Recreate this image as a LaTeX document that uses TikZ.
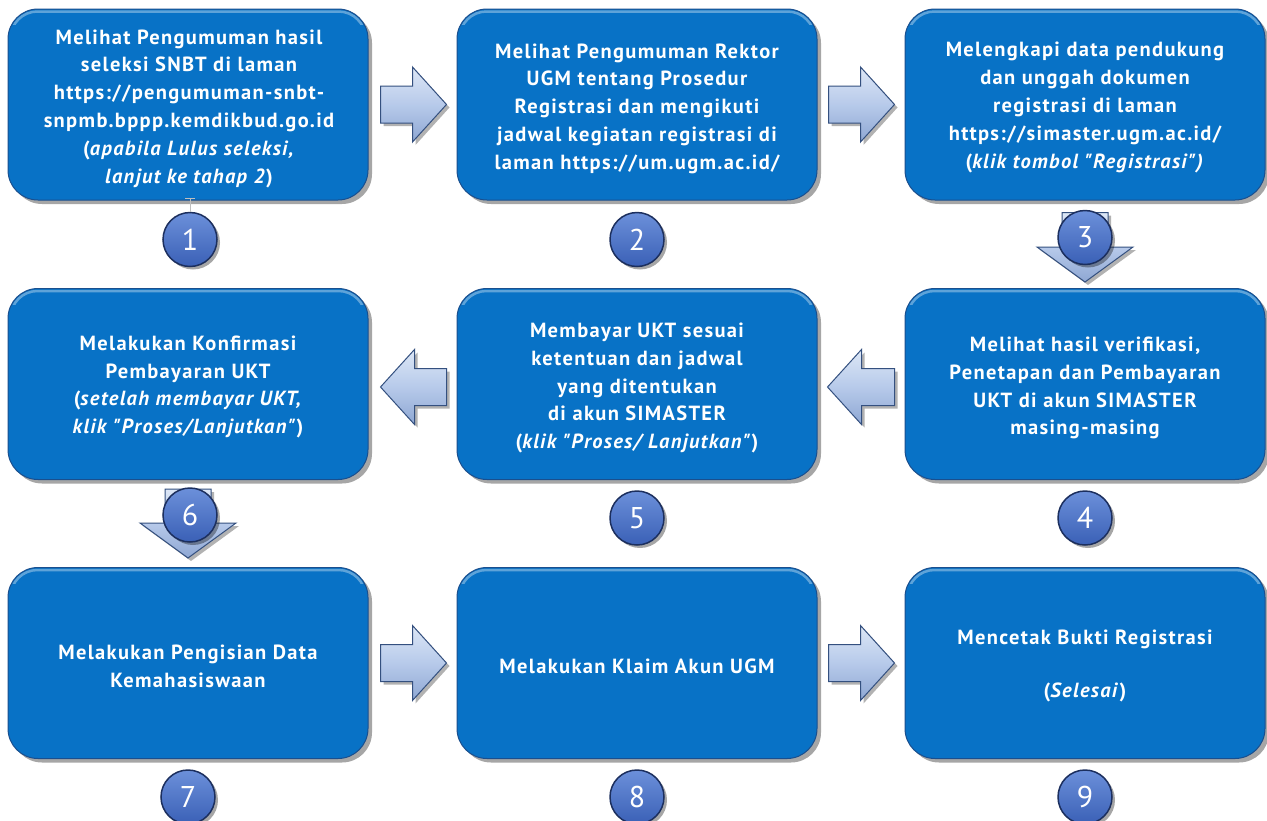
\documentclass[tikz,border=0pt]{standalone}
\usepackage{fontspec}
\setmainfont{PT Sans}[Ligatures=TeXOff]
\newfontfamily\boxfont{PT Sans}[Ligatures=TeXOff, LetterSpace=6.5]
\usetikzlibrary{calc,shadows}
\definecolor{boxfill}{HTML}{0872C6}
\definecolor{boxline}{HTML}{1A4F8E}
\definecolor{circtop}{HTML}{6C90DA}
\definecolor{circbot}{HTML}{3A60B6}
\definecolor{circline}{HTML}{1C2F5E}
\definecolor{arrtop}{HTML}{DDE7F6}
\definecolor{arrmid}{HTML}{B7CAEA}
\definecolor{arrbot}{HTML}{8EA7D3}
\definecolor{arrline}{HTML}{34507F}
\tikzset{
  stepbox/.style={rectangle, rounded corners=30pt, fill=boxfill, draw=boxline, line width=1pt,
    minimum width=360pt, minimum height=191pt, inner sep=0pt,
    drop shadow={shadow xshift=4pt, shadow yshift=-4pt, opacity=0.35, fill=black}},
  boxtext/.style={inner sep=0pt, align=center, text=white,
    font=\boxfont\fontsize{20.5}{27.8}\selectfont\bfseries},
  numcirc/.style={circle, minimum size=54pt, inner sep=0pt, top color=circtop, bottom color=circbot,
    draw=circline, line width=1.5pt, text=white, font=\fontsize{30}{30}\selectfont,
    drop shadow={shadow xshift=3pt, shadow yshift=-3pt, opacity=0.35, fill=black}},
  arrowbox/.style={top color=arrtop, bottom color=arrbot, middle color=arrmid, draw=arrline,
    line width=1pt, line join=miter,
    drop shadow={shadow xshift=3pt, shadow yshift=-3pt, opacity=0.3, fill=black}},
  glossline/.style={white, opacity=0.35, line width=2.5pt, rounded corners=27pt}
}
\newcommand\myHArrow[3]{%
  \path[arrowbox] ($(#1)+(0,-18.5)$) -- ($(#2)+({-(#3)*34},-18.5)$) -- ($(#2)+({-(#3)*34},-37.5)$)
    -- (#2) -- ($(#2)+({-(#3)*34},37.5)$) -- ($(#2)+({-(#3)*34},18.5)$) -- ($(#1)+(0,18.5)$) -- cycle;}
\newcommand\myVArrow[2]{%
  \path[arrowbox] ($(#1)+(-23,0)$) -- ($(#2)+(-23,-35)$) -- ($(#2)+(-48,-35)$)
    -- (#2) -- ($(#2)+(48,-35)$) -- ($(#2)+(23,-35)$) -- ($(#1)+(23,0)$) -- cycle;}
\newcommand\myGloss[1]{%
  \begin{scope}
    \clip ($(#1.north west)+(-2,-2)$) rectangle ($(#1.north east)+(2,16)$);
    \draw[glossline] ($(#1.north west)+(3,3)$) rectangle ($(#1.south east)+(-3,-3)$);
  \end{scope}}
\begin{document}
\begin{tikzpicture}[x=1pt,y=-1pt]
\useasboundingbox (0,0) rectangle (1267,820);
\fill[white] (0,0) rectangle (1267,820);

% boxes
\node[stepbox] (b1) at (188,104.5) {};
\node[stepbox] (b2) at (637,104.5) {};
\node[stepbox] (b3) at (1085,104.5) {};
\node[stepbox] (b4) at (1085,384) {};
\node[stepbox] (b5) at (637,384) {};
\node[stepbox] (b6) at (188,384) {};
\node[stepbox] (b7) at (188,663) {};
\node[stepbox] (b8) at (637,663) {};
\node[stepbox] (b9) at (1085,663) {};

\foreach \b in {b1,b2,b3,b4,b5,b6,b7,b8,b9} {\myGloss{\b}}

% box texts
\node[boxtext] (t1) at ($(b1.center)+(1,4)$) {Melihat Pengumuman hasil\\seleksi SNBT di laman\\https://pengumuman-snbt-\\snpmb.bppp.kemdikbud.go.id\\(\textit{apabila Lulus seleksi,}\\\textit{lanjut ke tahap 2})};
\node[boxtext] (t2) at ($(b2.center)+(0,4)$) {Melihat Pengumuman Rektor\\UGM tentang Prosedur\\Registrasi dan mengikuti\\jadwal kegiatan registrasi di\\laman https://um.ugm.ac.id/};
\node[boxtext] (t3) at ($(b3.center)+(0,3)$) {Melengkapi data pendukung\\dan unggah dokumen\\registrasi di laman\\https://simaster.ugm.ac.id/\\(\textit{klik tombol "Registrasi")}};
\node[boxtext] (t4) at ($(b4.center)+(0,4)$) {Melihat hasil verifikasi,\\Penetapan dan Pembayaran\\UKT di akun SIMASTER\\masing-masing};
\node[boxtext] (t5) at ($(b5.center)+(0,4)$) {Membayar UKT sesuai\\ketentuan dan jadwal\\yang ditentukan\\di akun SIMASTER\\(\textit{klik "Proses/ Lanjutkan"})};
\node[boxtext] (t6) at ($(b6.center)+(0,3)$) {Melakukan Konfirmasi\\Pembayaran UKT\\(\textit{setelah membayar UKT,}\\\textit{klik "Proses/Lanjutkan"})};
\node[boxtext] (t7) at ($(b7.center)+(0,3)$) {Melakukan Pengisian Data\\Kemahasiswaan};
\node[boxtext] (t8) at ($(b8.center)+(0,3)$) {Melakukan Klaim Akun UGM};
\node[boxtext] (t9) at ($(b9.center)+(0,3)$) {Mencetak Bukti Registrasi\\[26pt](\textit{Selesai})};

% arrow end points
\coordinate (a12s) at ($(b1.east)+(12,0)$);
\coordinate (a12t) at ($(b2.west)+(-10,0)$);
\coordinate (a23s) at ($(b2.east)+(11,0)$);
\coordinate (a23t) at ($(b3.west)+(-10,0)$);
\coordinate (a34s) at ($(b3.south)+(0,12)$);
\coordinate (a34t) at ($(b4.north)+(0,-6)$);
\coordinate (a45s) at ($(b4.west)+(-10,3)$);
\coordinate (a45t) at ($(b5.east)+(10,3)$);
\coordinate (a56s) at ($(b5.west)+(-10,3)$);
\coordinate (a56t) at ($(b6.east)+(12,3)$);
\coordinate (a67s) at ($(b6.south)+(0,9)$);
\coordinate (a67t) at ($(b7.north)+(0,-9)$);
\coordinate (a78s) at ($(b7.east)+(12,0)$);
\coordinate (a78t) at ($(b8.west)+(-10,0)$);
\coordinate (a89s) at ($(b8.east)+(11,0)$);
\coordinate (a89t) at ($(b9.west)+(-10,0)$);

\myHArrow{a12s}{a12t}{1}
\myHArrow{a23s}{a23t}{1}
\myVArrow{a34s}{a34t}
\myHArrow{a45s}{a45t}{-1}
\myHArrow{a56s}{a56t}{-1}
\myVArrow{a67s}{a67t}
\myHArrow{a78s}{a78t}{1}
\myHArrow{a89s}{a89t}{1}

% number circles
\node[numcirc] (c1) at ($(b1.south)+(2,39)$) {1};
\node[numcirc] (c2) at ($(b2.south)+(0,39)$) {2};
\node[numcirc] (c3) at ($(b3.south)+(0,37)$) {3};
\node[numcirc] (c4) at ($(b4.south)+(0,38)$) {4};
\node[numcirc] (c5) at ($(b5.south)+(0,38)$) {5};
\node[numcirc] (c6) at ($(b6.south)+(2,35)$) {6};
\node[numcirc] (c7) at ($(b7.south)+(0,38)$) {7};
\node[numcirc] (c8) at ($(b8.south)+(0,38)$) {8};
\node[numcirc] (c9) at ($(b9.south)+(0,38)$) {9};

% small tick under box 1
\draw[gray!50, line width=0.8pt] ($(b1.south)+(-3,-2)$) -- ($(b1.south)+(7,-2)$);
\draw[gray!50, line width=0.8pt] ($(b1.south)+(2,-2)$) -- (c1.north);
\end{tikzpicture}
\end{document}
